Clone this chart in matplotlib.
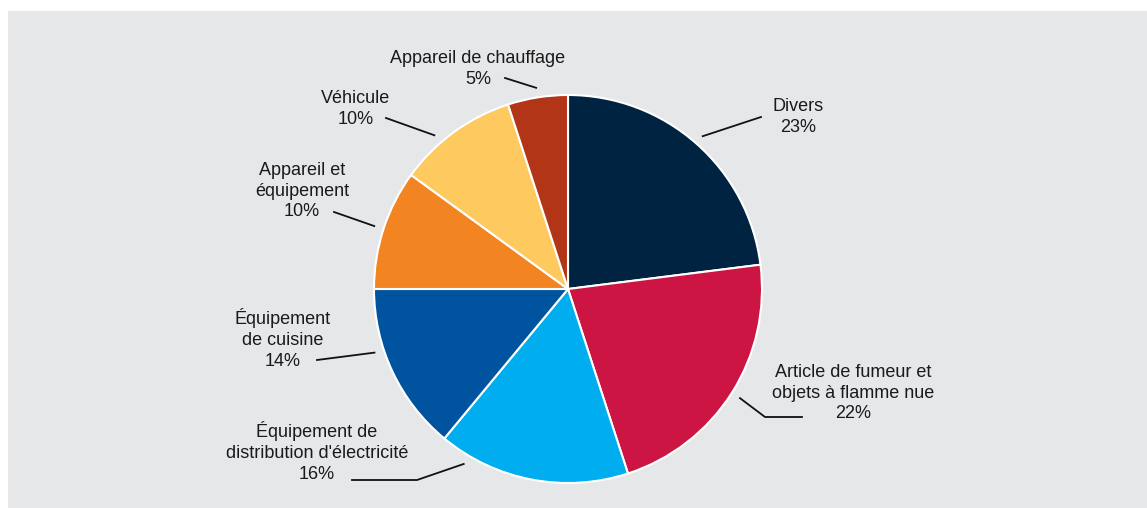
import numpy as np
import matplotlib
matplotlib.use("Agg")
import matplotlib.pyplot as plt
from matplotlib.patches import Rectangle

# data
labels = ["Divers", "Article de fumeur et\nobjets à flamme nue",
          "Équipement de\ndistribution d'électricité", "Équipement\nde cuisine",
          "Appareil et\néquipement", "Véhicule", "Appareil de chauffage"]
values = [23, 22, 16, 14, 10, 10, 5]
colors = ["#002341", "#cc1543", "#00aeef", "#00539f", "#f38422", "#fec95e", "#b33517"]

# layout (pixel coords, y down)
W, H = 1147, 508
cx, cy, R = 568, 289, 194
text_pos = [(798, 117), (853, 393), (317, 452), (283, 339), (302, 191), (356, 109), (478, 69)]
line_end = [[(761, 117)], [(765, 417), (802, 417)], [(417, 480), (352, 480)],
            [(317, 360)], [(334, 212)], [(386, 118)], [(505, 78)]]
# y is flipped, so a positive shift moves the connector clockwise on screen
angle_shift = [0, 0, 20, 7, 0, -5, 0]

plt.rcParams['font.family'] = ['Liberation Sans', 'DejaVu Sans']

fig = plt.figure(figsize=(W / 100, H / 100), dpi=100, facecolor="white")
ax = fig.add_axes([0, 0, 1, 1])

# y axis is flipped, so counterclock in data = clockwise on screen
wedges, _ = ax.pie(values, colors=colors, startangle=-90, counterclock=True,
                   center=(cx, cy), radius=R,
                   wedgeprops=dict(edgecolor="white", linewidth=1.5))
ax.set_xlim(0, W)
ax.set_ylim(H, 0)
ax.axis("off")
ax.add_patch(Rectangle((8, 11), W - 8, H - 11, facecolor="#e6e7e9",
                       edgecolor="none", zorder=0))

for i, w in enumerate(wedges):
    mid = np.deg2rad((w.theta1 + w.theta2) / 2 + angle_shift[i])
    x0 = cx + R * 1.05 * np.cos(mid)
    y0 = cy + R * 1.05 * np.sin(mid)
    pts = [(x0, y0)] + line_end[i]
    ax.plot([p[0] for p in pts], [p[1] for p in pts], color="#111111", lw=1.3, zorder=3)
    pct = f"{values[i]}%"
    ax.text(text_pos[i][0], text_pos[i][1], labels[i] + "\n" + pct, ha="center", va="center",
            fontsize=13, color="#1a1a1a", linespacing=1.3, zorder=4)

fig.savefig("out.png", dpi=100, facecolor="white")
